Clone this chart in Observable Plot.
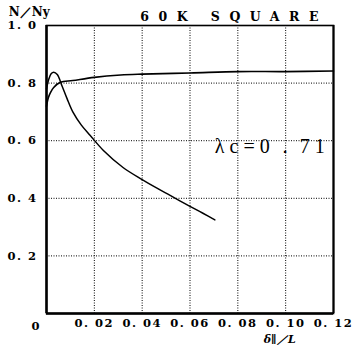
<!DOCTYPE html>
<html><head><meta charset="utf-8">
<script src="https://cdn.jsdelivr.net/npm/d3@7"></script>
<script src="https://cdn.jsdelivr.net/npm/@observablehq/plot@0.6"></script>
<style>body{margin:0;background:#fff}</style>
</head><body><div id="chart"></div>
<script>
const xTicks = [0.02, 0.04, 0.06, 0.08, 0.10, 0.12];
const xTickLabels = ["0. 02", "0. 04", "0. 06", "0. 08", "0. 10", "0. 12"];
const yTicks = [0.2, 0.4, 0.6, 0.8, 1.0];
const yTickLabels = ["0. 2", "0. 4", "0. 6", "0. 8", "1. 0"];
const gridX = [0.02, 0.04, 0.06, 0.08, 0.10];
const gridY = [0.2, 0.4, 0.6, 0.8];

// rising curve (approaches ~0.84)
const upperX = [0, 0.0008, 0.0017, 0.003, 0.0058, 0.011, 0.02, 0.031, 0.04, 0.06, 0.08, 0.10, 0.12];
const upperY = [0.72, 0.75, 0.768, 0.785, 0.803, 0.809, 0.82, 0.828, 0.831, 0.835, 0.840, 0.840, 0.842];
// peaked then falling curve
const lowerX = [0, 0.001, 0.002, 0.003, 0.0045, 0.0065, 0.0086, 0.011, 0.0145, 0.0183, 0.0238, 0.032, 0.040, 0.046, 0.0517, 0.060, 0.0654, 0.0704];
const lowerY = [0.78, 0.815, 0.833, 0.838, 0.83, 0.79, 0.746, 0.70, 0.655, 0.618, 0.566, 0.507, 0.465, 0.436, 0.410, 0.372, 0.348, 0.325];

const titleText = "60K SQUARE";
const yLabelText = "N／Ny";
const xLabelText = "δ∥／L";
const noteText = "λc=0．71";

const upper = upperX.map((x, i) => ({x, y: upperY[i]}));
const lower = lowerX.map((x, i) => ({x, y: lowerY[i]}));

const serif = "'DejaVu Serif', 'Liberation Serif', serif";

const plot = Plot.plot({
  width: 355, height: 345,
  marginLeft: 46, marginRight: 22, marginTop: 25, marginBottom: 32,
  style: {fontFamily: serif, fontSize: "11px", fontWeight: "bold", background: "#fff", color: "#000"},
  x: {domain: [0, 0.12], axis: null},
  y: {domain: [0, 1], axis: null},
  marks: [
    Plot.ruleX(gridX, {stroke: "#000", strokeWidth: 1, strokeDasharray: "1,1.5"}),
    Plot.ruleY(gridY, {stroke: "#000", strokeWidth: 1, strokeDasharray: "1,1.5"}),
    Plot.frame({stroke: "#000", strokeWidth: 1.6}),
    Plot.ruleX([0], {stroke: "#000", strokeWidth: 2.5}),
    Plot.ruleY([0], {stroke: "#000", strokeWidth: 2.5}),
    Plot.ruleX([0.12], {stroke: "#000", strokeWidth: 2}),
    Plot.axisX({ticks: xTicks, tickFormat: (d, i) => xTickLabels[i], tickSize: 0, tickPadding: 5, fontWeight: "bold", fontSize: 11.5, label: null}),
    Plot.axisY({ticks: yTicks, tickFormat: (d, i) => yTickLabels[i], tickSize: 0, tickPadding: 9, fontWeight: "bold", fontSize: 11.5, label: null}),
    Plot.text(["0"], {x: 0, frameAnchor: "bottom", dy: 16, dx: -11, fontWeight: "bold", fontSize: 11.5}),
    Plot.line(upper, {x: "x", y: "y", curve: "catmull-rom", stroke: "#000", strokeWidth: 1.6}),
    Plot.line(lower, {x: "x", y: "y", curve: "catmull-rom", stroke: "#000", strokeWidth: 1.5}),
    Plot.text([titleText], {x: 0.0392, y: 1.028, textAnchor: "start", fontSize: 12.5, fontWeight: "bold"}),
    Plot.text([yLabelText], {x: -0.0158, y: 1.047, textAnchor: "start", fontSize: 12, fontWeight: "bold"}),
    Plot.text([xLabelText], {x: 0.0975, y: -0.09, textAnchor: "middle", fontSize: 11, fontWeight: "bold", fontStyle: "italic"}),
    Plot.text([noteText], {x: 0.0704, y: 0.578, textAnchor: "start", fontSize: 20, fontWeight: "normal", fontFamily: "'Liberation Serif', serif"})
  ]
});
document.getElementById("chart").appendChild(plot);
const sel = d3.select(plot).selectAll("text");
sel.filter(function() { return this.textContent === titleText; }).attr("letter-spacing", "9.5px");
sel.filter(function() { return this.textContent === noteText; }).attr("letter-spacing", "5px");
sel.filter(function() { return xTickLabels.includes(this.textContent) || yTickLabels.includes(this.textContent); }).attr("letter-spacing", "1.5px");
</script>
</body></html>
